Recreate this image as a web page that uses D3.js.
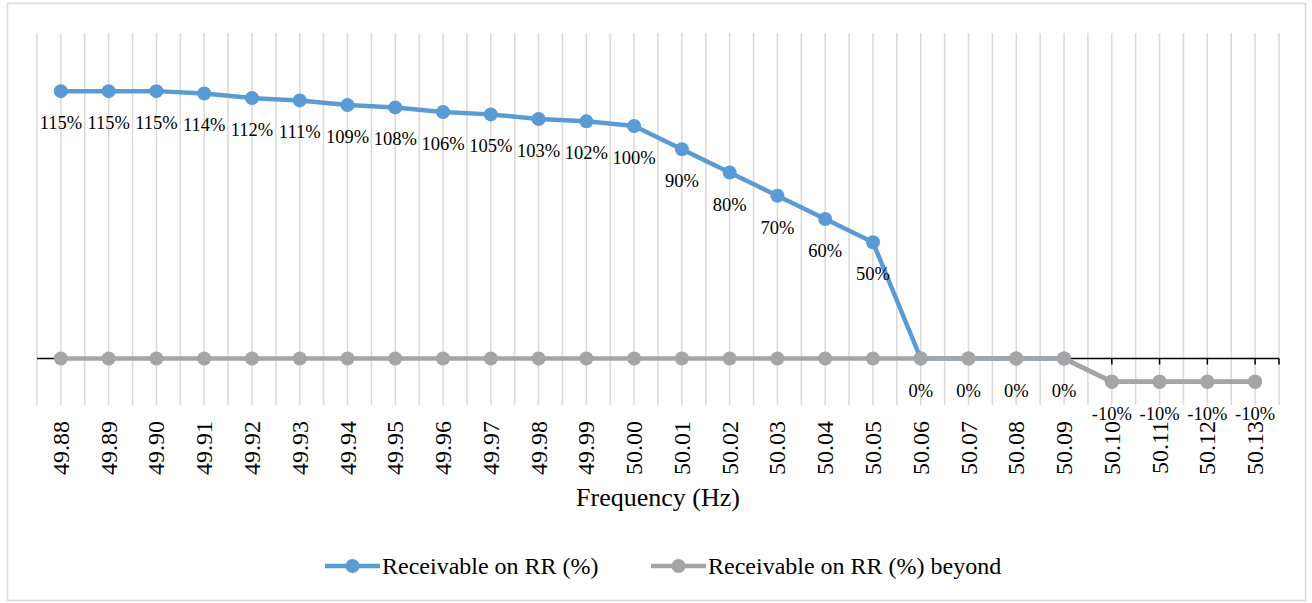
<!DOCTYPE html>
<html>
<head>
<meta charset="utf-8">
<script src="https://cdn.jsdelivr.net/npm/d3@7"></script>
<style>
  body { margin: 0; background: #fff; }
</style>
</head>
<body>
<div id="chart"></div>
<script>
/* Receivable on RR vs frequency */

const freqs = ["49.88","49.89","49.90","49.91","49.92","49.93","49.94","49.95","49.96","49.97",
               "49.98","49.99","50.00","50.01","50.02","50.03","50.04","50.05","50.06","50.07",
               "50.08","50.09","50.10","50.11","50.12","50.13"];
const receivable = [115,115,115,114,112,111,109,108,106,105,103,102,100,90,80,70,60,50,0,0,0,0,-10,-10,-10,-10];
const beyond = [0,0,0,0,0,0,0,0,0,0,0,0,0,0,0,0,0,0,0,0,0,0,-10,-10,-10,-10];
const seriesNames = ["Receivable on RR (%)", "Receivable on RR (%) beyond"];
const colors = ["#5b9bd5", "#a5a5a5"];

const width = 1312, height = 603,
      margin = ({ top: 33, right: 33, bottom: 198, left: 37 });

let svg = d3.select("#chart")
    .append("svg")
    .attr("width", width)
    .attr("height", height)
    .style("font-family", "Tinos, 'Liberation Serif', 'Times New Roman', Times, 'Noto Serif', 'DejaVu Serif', serif");

// chart border
svg.append("rect")
    .attr("x", 7.5).attr("y", 3.5)
    .attr("width", 1298).attr("height", 597)
    .attr("fill", "none")
    .attr("stroke", "#d9d9d9")
    .attr("stroke-width", 1.5);

let x = d3.scaleBand()
    .domain(freqs)
    .range([margin.left, width - margin.right]);

let y = d3.scaleLinear()
    .domain([-20, 140])
    .range([405, margin.top]);

const cx = d => x(d) + x.bandwidth() / 2;

// vertical gridlines at category centres and boundaries
let gridX = [];
freqs.forEach(f => { gridX.push(x(f)); gridX.push(cx(f)); });
gridX.push(x.range()[1]);

svg.append("g")
    .selectAll("line")
    .data(gridX)
    .join("line")
    .attr("x1", d => d).attr("x2", d => d)
    .attr("y1", y(140)).attr("y2", y(-20))
    .attr("stroke", "#d9d9d9")
    .attr("stroke-width", 1.5);

// x axis along zero
let xAxis = svg.append("g")
    .attr("transform", `translate(0,${y(0)})`);
xAxis.append("line")
    .attr("x1", x.range()[0]).attr("x2", x.range()[1])
    .attr("stroke", "#000").attr("stroke-width", 1.5);
xAxis.selectAll(".tick")
    .data(freqs.map(cx).concat([x.range()[1]]))
    .join("line")
    .attr("x1", d => d).attr("x2", d => d)
    .attr("y1", 0).attr("y2", 6)
    .attr("stroke", "#000").attr("stroke-width", 1.5);

// category labels, rotated
svg.append("g")
    .selectAll("text")
    .data(freqs)
    .join("text")
    .attr("transform", d => `translate(${cx(d) + 8},421) rotate(-90)`)
    .attr("text-anchor", "end")
    .style("font-size", "24px")
    .text(d => d);

svg.append("text")
    .attr("x", (x.range()[0] + x.range()[1]) / 2)
    .attr("y", 506)
    .attr("text-anchor", "middle")
    .style("font-size", "26px")
    .text("Frequency (Hz)");

let line = d3.line()
    .x((d, i) => cx(freqs[i]))
    .y(d => y(d));

// draw blue first, grey on top
[receivable, beyond].forEach((vals, s) => {
    let g = svg.append("g");
    g.append("path")
        .datum(vals)
        .attr("d", line)
        .attr("fill", "none")
        .attr("stroke", colors[s])
        .attr("stroke-width", 4.5)
        .attr("stroke-linejoin", "round");
    g.selectAll("circle")
        .data(vals)
        .join("circle")
        .attr("cx", (d, i) => cx(freqs[i]))
        .attr("cy", d => y(d))
        .attr("r", 7)
        .attr("fill", colors[s]);
});

// data labels for the main series
svg.append("g")
    .selectAll("text")
    .data(receivable)
    .join("text")
    .attr("x", (d, i) => cx(freqs[i]))
    .attr("y", d => y(d) + 38)
    .attr("text-anchor", "middle")
    .style("font-size", "18.5px")
    .text(d => d + "%");

// legend
const legendX = [325, 651];
seriesNames.forEach((name, s) => {
    let lg = svg.append("g").attr("transform", `translate(${legendX[s]},566)`);
    lg.append("line")
        .attr("x1", 0).attr("x2", 55)
        .attr("stroke", colors[s]).attr("stroke-width", 4.5);
    lg.append("circle")
        .attr("cx", 27.5).attr("r", 7)
        .attr("fill", colors[s]);
    lg.append("text")
        .attr("x", 57).attr("y", 8)
        .style("font-size", "24px")
        .text(name);
});
</script>
</body>
</html>
